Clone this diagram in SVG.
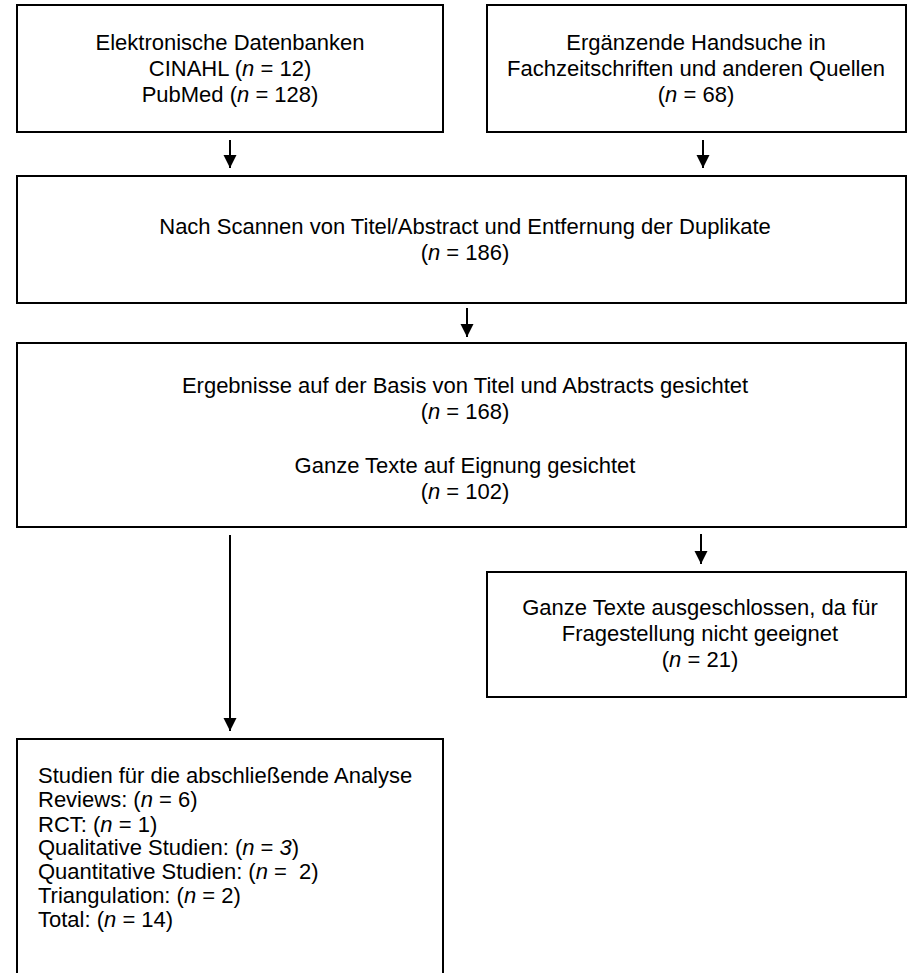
<svg xmlns="http://www.w3.org/2000/svg" width="912" height="973" viewBox="0 0 912 973">
<defs>
<style>
.box{fill:#fff;stroke:#000;stroke-width:2}
.t{font-family:"Liberation Sans",Arial,sans-serif;font-size:22px;fill:#000}
.c{text-anchor:middle}
.i{font-style:italic}
.ln{stroke:#000;stroke-width:2;fill:none}
</style>
<marker id="ah" markerUnits="userSpaceOnUse" markerWidth="14" markerHeight="14" refX="13" refY="6.5" orient="auto">
<path d="M0,0 L13,6.5 L0,13 z" fill="#000"/>
</marker>
</defs>
<rect width="912" height="973" fill="#fff"/>

<g id="connectors">
<line class="ln" x1="230" y1="140" x2="230" y2="168" marker-end="url(#ah)"/>
<line class="ln" x1="703" y1="140" x2="703" y2="168" marker-end="url(#ah)"/>
<line class="ln" x1="467" y1="308" x2="467" y2="337" marker-end="url(#ah)"/>
<line class="ln" x1="230" y1="535" x2="230" y2="731" marker-end="url(#ah)"/>
<line class="ln" x1="701" y1="534" x2="701" y2="564" marker-end="url(#ah)"/>
</g>

<g id="n1">
<rect class="box" x="17" y="5" width="426" height="127"/>
<text class="t c" x="230" y="50">Elektronische Datenbanken</text>
<text class="t c" x="230" y="76">CINAHL (<tspan class="i">n</tspan> = 12)</text>
<text class="t c" x="230" y="102">PubMed (<tspan class="i">n</tspan> = 128)</text>
</g>

<g id="n2">
<rect class="box" x="487" y="5" width="419" height="127"/>
<text class="t c" x="696" y="50">Ergänzende Handsuche in</text>
<text class="t c" x="696" y="76">Fachzeitschriften und anderen Quellen</text>
<text class="t c" x="696" y="102">(<tspan class="i">n</tspan> = 68)</text>
</g>

<g id="n3">
<rect class="box" x="17" y="176" width="889" height="127"/>
<text class="t c" x="465" y="234">Nach Scannen von Titel/Abstract und Entfernung der Duplikate</text>
<text class="t c" x="465" y="260">(<tspan class="i">n</tspan> = 186)</text>
</g>

<g id="n4">
<rect class="box" x="17" y="343" width="889" height="184"/>
<text class="t c" x="465" y="393">Ergebnisse auf der Basis von Titel und Abstracts gesichtet</text>
<text class="t c" x="465" y="419">(<tspan class="i">n</tspan> = 168)</text>
<text class="t c" x="465" y="473">Ganze Texte auf Eignung gesichtet</text>
<text class="t c" x="465" y="499">(<tspan class="i">n</tspan> = 102)</text>
</g>

<g id="n5">
<rect class="box" x="487" y="572" width="419" height="125"/>
<text class="t c" x="700" y="615">Ganze Texte ausgeschlossen, da für</text>
<text class="t c" x="700" y="641">Fragestellung nicht geeignet</text>
<text class="t c" x="700" y="667">(<tspan class="i">n</tspan> = 21)</text>
</g>

<g id="n6">
<rect class="box" x="17" y="739" width="426" height="250"/>
<text class="t" x="38" y="783">Studien für die abschließende Analyse</text>
<text class="t" x="38" y="807">Reviews: (<tspan class="i">n</tspan> = 6)</text>
<text class="t" x="38" y="832">RCT: (<tspan class="i">n</tspan> = 1)</text>
<text class="t" x="38" y="855">Qualitative Studien: (<tspan class="i">n</tspan> = <tspan class="i">3</tspan>)</text>
<text class="t" x="38" y="879" xml:space="preserve">Quantitative Studien: (<tspan class="i">n</tspan> =  2)</text>
<text class="t" x="38" y="903">Triangulation: (<tspan class="i">n</tspan> = 2)</text>
<text class="t" x="38" y="927">Total: (<tspan class="i">n</tspan> = 14)</text>
</g>
</svg>
